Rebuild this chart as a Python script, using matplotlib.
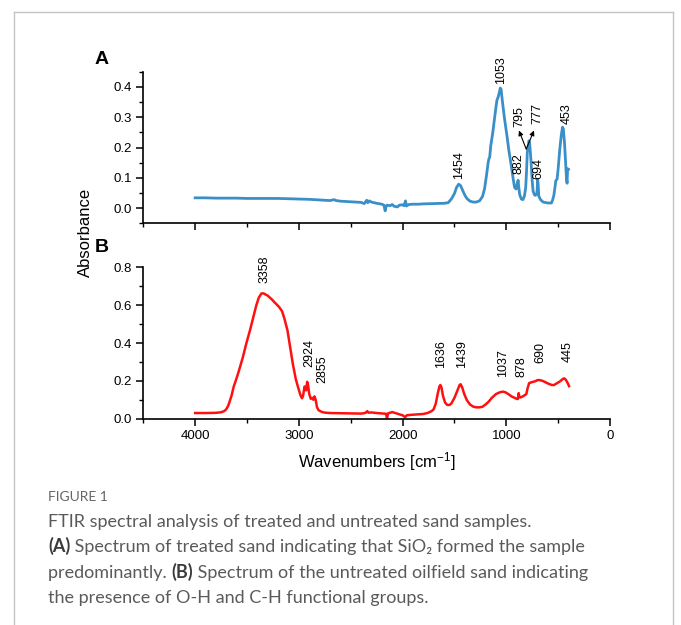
import matplotlib
matplotlib.use("Agg")
import matplotlib.pyplot as plt
from matplotlib.ticker import MultipleLocator, FormatStrFormatter
from matplotlib.lines import Line2D

# ---------------- data ----------------
wn_a = [4000, 3900, 3800, 3700, 3600, 3500, 3400, 3300, 3200, 3100, 3000, 2900, 2800, 2700,
        2660, 2640, 2600, 2500, 2400, 2370, 2345, 2335, 2320, 2300, 2250, 2200, 2180, 2168,
        2160, 2150, 2120, 2100, 2080, 2050, 2030, 2000, 1985, 1972, 1962, 1940, 1900, 1850,
        1800, 1700, 1600, 1560, 1530, 1500, 1480, 1459, 1440, 1420, 1400, 1380, 1350, 1320,
        1290, 1258, 1230, 1210, 1190, 1175, 1168, 1160, 1150, 1130, 1110, 1091, 1077, 1065,
        1058, 1050, 1040, 1033, 1015, 994, 975, 952, 935, 920, 905, 895, 886, 880, 871, 855,
        839, 825, 813, 805, 797, 790, 781, 775, 768, 761, 750, 742, 730, 720, 705, 697, 692,
        687, 670, 645, 600, 565, 555, 542, 530, 523, 510, 500, 484, 470, 458, 450, 439, 428,
        420, 414, 409, 400]
abs_a = [0.034, 0.034, 0.033, 0.033, 0.033, 0.032, 0.032, 0.032, 0.032, 0.031, 0.030, 0.029,
         0.027, 0.025, 0.028, 0.025, 0.023, 0.021, 0.019, 0.015, 0.026, 0.018, 0.024, 0.020,
         0.016, 0.013, 0.010, -0.009, 0.004, 0.010, 0.008, 0.012, 0.006, 0.004, 0.010, 0.011,
         0.008, 0.024, 0.007, 0.012, 0.013, 0.013, 0.014, 0.015, 0.016, 0.018, 0.030, 0.048,
         0.068, 0.079, 0.074, 0.058, 0.043, 0.032, 0.023, 0.020, 0.020, 0.024, 0.038, 0.063,
         0.110, 0.150, 0.162, 0.168, 0.205, 0.250, 0.305, 0.355, 0.368, 0.385, 0.396, 0.392,
         0.360, 0.339, 0.290, 0.240, 0.190, 0.140, 0.100, 0.068, 0.063, 0.080, 0.092, 0.070,
         0.045, 0.030, 0.028, 0.040, 0.068, 0.120, 0.185, 0.200, 0.222, 0.215, 0.185, 0.150,
         0.090, 0.057, 0.045, 0.042, 0.048, 0.094, 0.075, 0.040, 0.028, 0.020, 0.017, 0.017,
         0.025, 0.041, 0.070, 0.090, 0.096, 0.130, 0.195, 0.240, 0.267, 0.262, 0.217, 0.150,
         0.100, 0.082, 0.130, 0.128]

wn_b = [4000, 3900, 3800, 3750, 3720, 3700, 3680, 3650, 3628, 3600, 3576, 3540, 3507, 3470,
        3438, 3410, 3386, 3360, 3340, 3300, 3260, 3231, 3190, 3162, 3140, 3110, 3085, 3059,
        3030, 3007, 2985, 2970, 2960, 2945, 2938, 2930, 2920, 2912, 2900, 2885, 2870, 2860,
        2850, 2838, 2825, 2810, 2780, 2750, 2700, 2600, 2500, 2400, 2360, 2340, 2330, 2300,
        2250, 2200, 2160, 2150, 2140, 2100, 2070, 2040, 2000, 1975, 1960, 1930, 1900, 1850,
        1800, 1760, 1720, 1700, 1680, 1660, 1645, 1636, 1625, 1610, 1590, 1570, 1550, 1530,
        1500, 1470, 1450, 1440, 1425, 1405, 1380, 1350, 1320, 1290, 1258, 1230, 1200, 1170,
        1140, 1100, 1060, 1033, 1010, 980, 950, 920, 900, 888, 880, 875, 865, 840, 820, 807,
        795, 780, 760, 740, 720, 700, 678, 650, 620, 590, 560, 540, 510, 480, 455, 440, 425,
        415, 405, 395]
abs_b = [0.030, 0.030, 0.031, 0.034, 0.040, 0.050, 0.070, 0.120, 0.170, 0.215, 0.257, 0.325,
         0.397, 0.470, 0.540, 0.600, 0.640, 0.662, 0.662, 0.650, 0.630, 0.613, 0.590, 0.568,
         0.530, 0.467, 0.380, 0.292, 0.210, 0.165, 0.125, 0.108, 0.120, 0.170, 0.160, 0.150,
         0.195, 0.180, 0.130, 0.105, 0.110, 0.100, 0.118, 0.100, 0.060, 0.045, 0.036, 0.032,
         0.030, 0.029, 0.028, 0.027, 0.030, 0.040, 0.032, 0.033, 0.030, 0.028, 0.026, 0.003,
         0.028, 0.035, 0.030, 0.025, 0.018, 0.008, 0.018, 0.020, 0.021, 0.023, 0.025, 0.030,
         0.040, 0.050, 0.080, 0.135, 0.170, 0.178, 0.165, 0.120, 0.085, 0.073, 0.072, 0.080,
         0.110, 0.150, 0.178, 0.182, 0.165, 0.130, 0.098, 0.075, 0.064, 0.060, 0.060, 0.063,
         0.075, 0.090, 0.110, 0.130, 0.140, 0.143, 0.140, 0.130, 0.118, 0.110, 0.105, 0.104,
         0.135, 0.115, 0.112, 0.118, 0.125, 0.130, 0.160, 0.188, 0.192, 0.195, 0.198, 0.204,
         0.204, 0.200, 0.192, 0.184, 0.178, 0.178, 0.188, 0.198, 0.210, 0.213, 0.205, 0.195,
         0.185, 0.172]

# peak labels: (text, label x in wavenumber, label bottom in absorbance)
labels_a = [("1454", 1452, 0.096), ("1053", 1055, 0.410), ("882", 881, 0.113),
            ("795", 871, 0.267), ("777", 704, 0.278), ("694", 687, 0.096),
            ("453", 419, 0.278)]
arrows_a = [((808, 0.195), (878, 0.256)), ((808, 0.195), (733, 0.256))]
labels_b = [("3358", 3330, 0.717), ("2924", 2904, 0.275), ("2855", 2778, 0.190),
            ("1636", 1629, 0.266), ("1439", 1426, 0.268), ("1037", 1033, 0.222),
            ("878", 855, 0.222), ("690", 668, 0.293), ("445", 404, 0.301)]

xlabel = "Wavenumbers [cm$^{\\mathregular{-1}}$]"
ylabel = "Absorbance"

caption_title = "FIGURE 1"
caption_lines = [
    [("FTIR spectral analysis of treated and untreated sand samples.", False)],
    [("(A)", True), (" Spectrum of treated sand indicating that SiO\u2082 formed the sample", False)],
    [("predominantly. ", False), ("(B)", True), (" Spectrum of the untreated oilfield sand indicating", False)],
    [("the presence of O-H and C-H functional groups.", False)],
]

# ---------------- figure ----------------
W, H = 681, 625
fig = plt.figure(figsize=(W / 100, H / 100), dpi=100)
plt.rcParams['font.family'] = ['Liberation Sans', 'DejaVu Sans']
plt.rcParams['mathtext.default'] = 'regular'

def fx(px):
    return px / W

def fy(py):
    return 1 - py / H

left, right = 143.3, 610
axA = fig.add_axes([fx(left), fy(223.3), fx(right - left), (223.3 - 71.7) / H])
axB = fig.add_axes([fx(left), fy(418.7), fx(right - left), (418.7 - 267.3) / H])

blue = "#3b8fc8"
red = "#ff1010"
axA.plot(wn_a, abs_a, color=blue, lw=2.0, solid_joinstyle='round')
axB.plot(wn_b, abs_b, color=red, lw=1.8, solid_joinstyle='round')

for ax in (axA, axB):
    ax.set_xlim(4500, 0)
    for s in ("top", "right"):
        ax.spines[s].set_visible(False)
    for s in ("left", "bottom"):
        ax.spines[s].set_linewidth(1.2)
    ax.xaxis.set_major_locator(MultipleLocator(1000))
    ax.xaxis.set_minor_locator(MultipleLocator(500))
    ax.tick_params(which='major', direction='out', length=5, width=1.1, labelsize=9.5, pad=3)
    ax.tick_params(which='minor', direction='out', length=3, width=1.0)
    ax.patch.set_alpha(0)

axA.set_ylim(-0.05, 0.45)
axA.yaxis.set_major_locator(MultipleLocator(0.1))
axA.yaxis.set_minor_locator(MultipleLocator(0.05))
axA.yaxis.set_major_formatter(FormatStrFormatter('%.1f'))
axA.tick_params(axis='x', which='both', labelbottom=False)

axB.set_ylim(0, 0.8)
axB.yaxis.set_major_locator(MultipleLocator(0.2))
axB.yaxis.set_minor_locator(MultipleLocator(0.1))
axB.yaxis.set_major_formatter(FormatStrFormatter('%.1f'))
axB.set_xticks([4000, 3000, 2000, 1000, 0])
axB.set_xticklabels(["4000", "3000", "2000", "1000", "0"])
axB.set_xlabel(xlabel, fontsize=12, labelpad=6)

for txt, x, y in labels_a:
    axA.text(x, y, txt, rotation=90, ha='center', va='bottom', fontsize=9)
for (x0, y0), (x1, y1) in arrows_a:
    axA.annotate("", xy=(x1, y1), xytext=(x0, y0),
                 arrowprops=dict(arrowstyle='-|>', color='black', lw=0.8,
                                 mutation_scale=7, shrinkA=0, shrinkB=0))
for txt, x, y in labels_b:
    axB.text(x, y, txt, rotation=90, ha='center', va='bottom', fontsize=9)

fig.text(fx(85), fy(232), ylabel, rotation=90, ha='center', va='center', fontsize=12)
fig.text(fx(95), fy(60), "A", fontsize=14, fontweight='bold', ha='left', va='center')
fig.text(fx(95), fy(247), "B", fontsize=14, fontweight='bold', ha='left', va='center')

# border
bc = "#c4c4c4"
fig.add_artist(Line2D([fx(14), fx(14)], [0, fy(12)], color=bc, lw=1.0))
fig.add_artist(Line2D([fx(14), fx(673)], [fy(12), fy(12)], color=bc, lw=1.0))
fig.add_artist(Line2D([fx(673), fx(673)], [fy(12), 0], color=bc, lw=1.0))

# caption
cap_font = ['Lato', 'DejaVu Sans']
gray = "#5a5a5a"
dark = "#3a3a3a"
fig.text(fx(48), fy(497), caption_title, fontsize=10, color="#666666", family=cap_font,
         ha='left', va='center')

renderer = fig.canvas.get_renderer()
for i, pieces in enumerate(caption_lines):
    ypx = 527 + 25.3 * i
    xcur = 48
    for txt, bold in pieces:
        t = fig.text(fx(xcur), fy(ypx), txt, ha='left', va='baseline', fontsize=13,
                     family=cap_font, color=dark if bold else gray,
                     fontweight='bold' if bold else 'normal')
        bb = t.get_window_extent(renderer=renderer)
        xcur += bb.width

fig.savefig("out.png", dpi=100)
